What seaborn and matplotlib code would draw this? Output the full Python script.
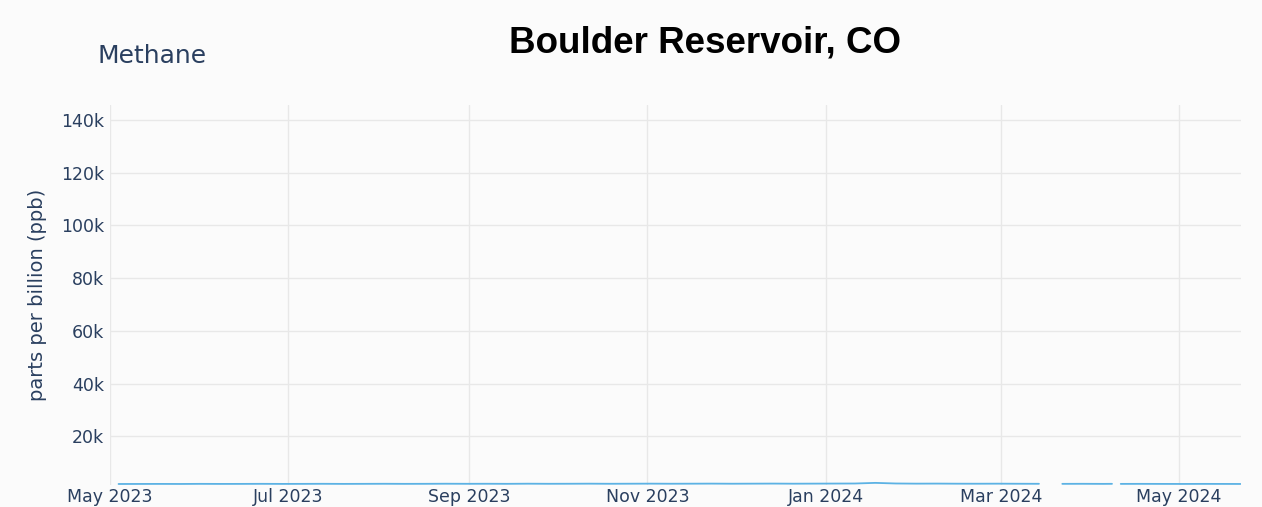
import numpy as np
import pandas as pd
import matplotlib
matplotlib.use("Agg")
import matplotlib.pyplot as plt
import matplotlib.dates as mdates
import matplotlib.ticker as mticker
import seaborn as sns

# methane readings (ppb); NaN marks a break in the record
dates = [
    "2023-05-01", "2023-05-02",
    "2023-05-04", "2023-05-11", "2023-05-18", "2023-05-25", "2023-06-01", "2023-06-08",
    "2023-06-15", "2023-06-22", "2023-06-29", "2023-07-06", "2023-07-13", "2023-07-20",
    "2023-07-27", "2023-08-03", "2023-08-10", "2023-08-17", "2023-08-24", "2023-08-31",
    "2023-09-07", "2023-09-14", "2023-09-21", "2023-09-28", "2023-10-05", "2023-10-12",
    "2023-10-19", "2023-10-26", "2023-11-02", "2023-11-09", "2023-11-16", "2023-11-23",
    "2023-11-30", "2023-12-07", "2023-12-14", "2023-12-21", "2023-12-28", "2024-01-04",
    "2024-01-11", "2024-01-18", "2024-01-25", "2024-02-01", "2024-02-08", "2024-02-15",
    "2024-02-22", "2024-02-29", "2024-03-07", "2024-03-14",
    "2024-03-18",
    "2024-03-22", "2024-03-29", "2024-04-05", "2024-04-08",
    "2024-04-09",
    "2024-04-11", "2024-04-18", "2024-04-25", "2024-05-02", "2024-05-09", "2024-05-16",
    "2024-05-22",
]
methane = [
    1985, np.nan,
    1960, 1975, 1990, 1970, 2010, 1985,
    1995, 2020, 1990, 2005, 2030, 1995,
    2015, 2040, 2010, 2025, 2060, 2030,
    2045, 2020, 2070, 2035, 2050, 2080,
    2040, 2065, 2090, 2055, 2075, 2100,
    2060, 2085, 2110, 2070, 2095, 2120,
    2140, 2380, 2150, 2090, 2110, 2070,
    2060, 2080, 2050, 2030,
    np.nan,
    2010, 2030, 2000, 2020,
    np.nan,
    1995, 2010, 1990, 1975, 2000, 1985,
    1970,
]

title = "Boulder Reservoir, CO"
subtitle = "Methane"
y_label = "parts per billion (ppb)"
y_ticks = [20000, 40000, 60000, 80000, 100000, 120000, 140000]

df = pd.DataFrame({"date": pd.to_datetime(dates), "ppb": methane})
df["segment"] = df["ppb"].isna().cumsum()
df = df.dropna()

bg = "#fbfbfb"
text_col = "#2a3f5f"
grid_col = "#e8e8e8"

sns.set_style("white")
plt.rcParams["font.family"] = ["DejaVu Sans"]

fig = plt.figure(figsize=(12.62, 5.07), dpi=100, facecolor=bg)
ax = fig.add_axes([0.087, 0.043, 0.896, 0.75], facecolor=bg)

sns.lineplot(data=df, x="date", y="ppb", units="segment", estimator=None,
             color="#5cb2e4", linewidth=1.3, ax=ax)

ax.set_xlim(pd.Timestamp("2023-05-01"), pd.Timestamp("2024-05-22"))
ax.set_ylim(1500, 145700)

ax.xaxis.set_major_locator(mdates.MonthLocator(bymonth=[1, 3, 5, 7, 9, 11]))
ax.xaxis.set_major_formatter(mdates.DateFormatter("%b %Y"))
ax.set_yticks(y_ticks)
ax.yaxis.set_major_formatter(mticker.FuncFormatter(lambda v, p: f"{int(v / 1000)}k"))

ax.grid(True, color=grid_col, linewidth=1)
ax.set_axisbelow(True)
for s in ax.spines.values():
    s.set_visible(False)
ax.tick_params(axis="both", length=0, labelsize=12.5, colors=text_col, pad=4)
ax.tick_params(axis="x", pad=2)
ax.set_xlabel("")
ax.set_ylabel(y_label, fontsize=14, color=text_col, labelpad=10)

fig.text(0.077, 0.89, subtitle, fontsize=18, color=text_col, ha="left", va="center")
fig.text(0.559, 0.915, title, fontsize=26.5, fontweight="bold", color="black",
         ha="center", va="center", family=["Liberation Sans", "DejaVu Sans"])

fig.savefig("out.png", dpi=100, facecolor=bg)
